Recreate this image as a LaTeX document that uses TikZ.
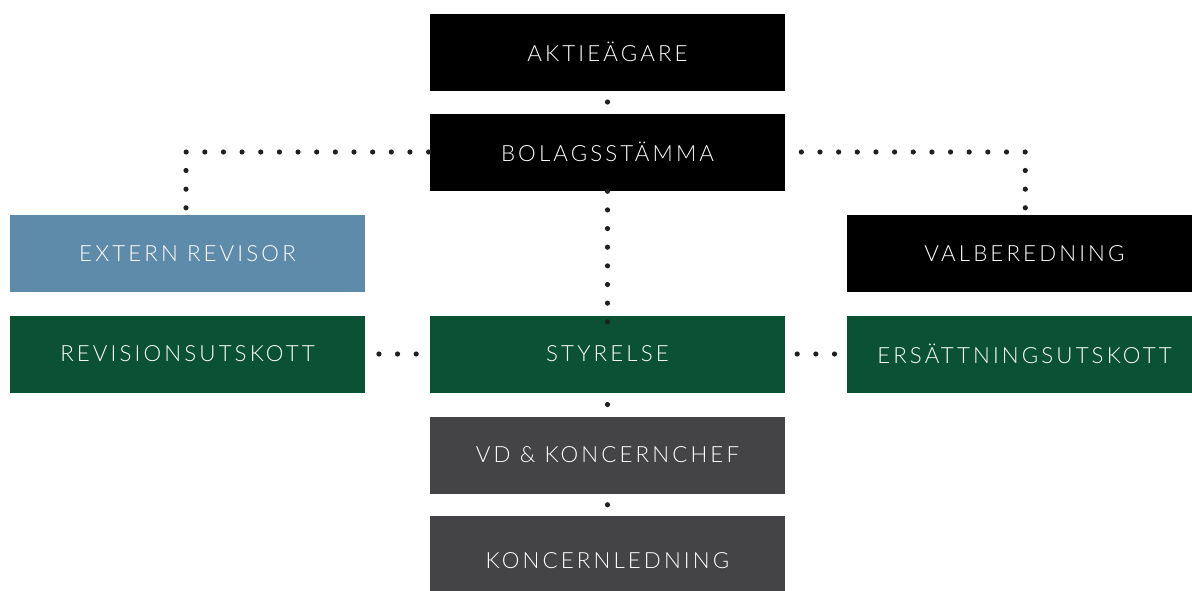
\documentclass[tikz,border=0pt]{standalone}
\usepackage{fontspec}
\setmainfont{Lato Light}[LetterSpace=14]
\usetikzlibrary{calc}
\begin{document}
\begin{tikzpicture}[x=1pt,y=-1pt,
  box/.style={minimum width=355pt,minimum height=77pt,inner sep=0pt,text=white,font=\fontsize{22.3}{24}\selectfont},
  dot/.style={fill=black!88,circle,inner sep=0pt,minimum size=5.2pt},
  dotline/.style={line width=5.2pt,line cap=round,black!88,dash pattern=on 0pt off 18.65pt}]
\useasboundingbox (0,0) rectangle (1192,590);
\clip (0,0) rectangle (1192,590);
\definecolor{cblue}{HTML}{5E8BAA}
\definecolor{cgreen}{HTML}{0B5235}
\definecolor{cgrey}{HTML}{444446}
\node[box,fill=black] (akt) at (607.5,52) {AKTIEÄGARE};
\node[box,fill=black] (bol) at (607.5,152) {BOLAGSSTÄMMA};
\node[box,fill=cblue] (ext) at (187.5,253.5) {EXTERN REVISOR};
\node[box,fill=black] (val) at (1024.5,253.5) {VALBEREDNING};
\node[box,fill=cgreen] (rev) at (187.5,354) {REVISIONSUTSKOTT};
\node[box,fill=cgreen] (sty) at (607.5,354) {STYRELSE};
\node[box,fill=cgreen] (ers) at (1024.5,354) {ERSÄTTNINGSUTSKOTT};
\node[box,fill=cgrey] (vd) at (607.5,455) {VD \& KONCERNCHEF};
\node[box,fill=cgrey,minimum height=90pt] (kon) at (607.5,561) {KONCERNLEDNING};
% connectors
\coordinate (cl) at (186,152);
\coordinate (cr) at (1025.3,152);
\node[dot] at ($(akt.south)!0.5!(bol.north)$) {};
\draw[dotline] (cl |- ext.north) ++(0,-7) -- (cl) -- (bol.west);
\draw[dotline] (cr |- val.north) ++(0,-7) -- (cr) -- ([xshift=13pt]bol.east);
\draw[dotline] ([yshift=-6.5pt]sty.north) -- ([yshift=4pt]bol.south);
\draw[dotline] ([xshift=-13.6pt]sty.west) -- ([xshift=10pt]rev.east);
\draw[dotline] ([xshift=-12.3pt]ers.west) -- ([xshift=9pt]sty.east);
\node[dot] at ($(sty.south)!0.5!(vd.north)$) {};
\node[dot] at ($(vd.south)!0.5!(kon.north)$) {};
\end{tikzpicture}
\end{document}
